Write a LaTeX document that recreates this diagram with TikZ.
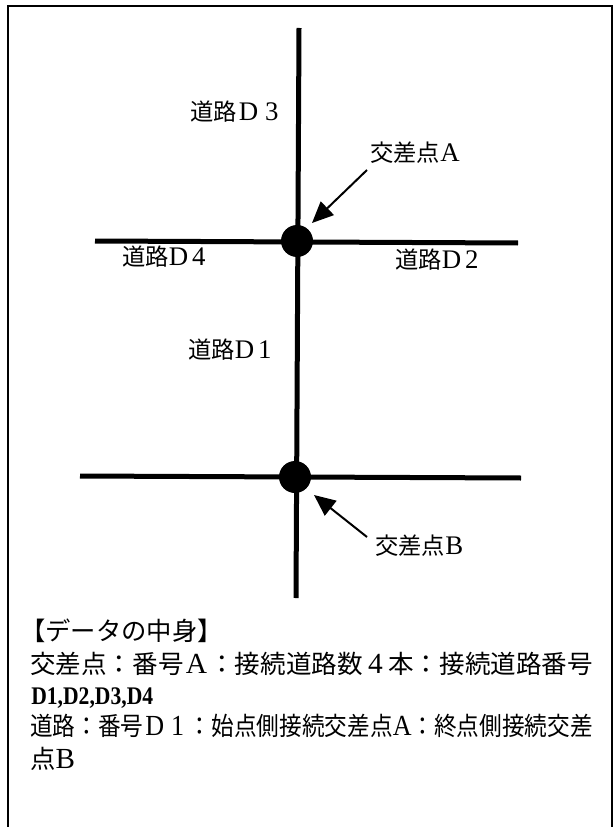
\documentclass[tikz,border=0pt]{standalone}
\usepackage{fontspec}
\setmainfont{Liberation Serif}
\newfontfamily\cjk{Noto Sans CJK JP}
\usetikzlibrary{arrows.meta}
\newcommand{\J}[1]{{\cjk #1}}
\newcommand{\fw}[1]{\makebox[1em]{\scalebox{1.15}{#1}}}
\newcommand{\lt}[1]{\scalebox{1.15}{#1}}
\begin{document}
\begin{tikzpicture}[x=0.75pt,y=-0.75pt,
  frame/.style={line width=1.1pt},
  road/.style={line width=3.75pt},
  junction/.style={circle, fill=black, minimum size=24pt, inner sep=0pt},
  lbl/.style={font=\fontsize{17.5}{20}\selectfont, inner sep=0pt, anchor=west},
  body/.style={font=\fontsize{19}{23}\selectfont, inner sep=0pt, anchor=base west},
  pointer/.style={line width=1.5pt, -{Triangle[length=16pt,width=14pt]}}]
\useasboundingbox (0,0) rectangle (614,827);
\draw[frame] (8,830) -- (8,6) -- (612,6) -- (612,830);
% roads
\coordinate (vtop) at (299,28);
\coordinate (vbot) at (296,598);
\coordinate (a4) at (95,241);
\coordinate (a2) at (518,243);
\coordinate (b4) at (80,476);
\coordinate (b2) at (521,478);
\draw[road] (vtop) -- (vbot);
\draw[road] (a4) -- (a2);
\draw[road] (b4) -- (b2);
% junctions
\node[junction] (A) at (297,241) {};
\node[junction] (B) at (295,477) {};
% pointers
\coordinate (pAt) at (367,170);
\coordinate (pAh) at (312,223);
\coordinate (pBt) at (367,537);
\coordinate (pBh) at (314,495);
\draw[pointer] (pAt) -- (pAh);
\draw[pointer] (pBt) -- (pBh);
% labels
\node[lbl] (d3) at (190,112) {\J{道路}\fw{D}\fw{3}};
\node[lbl] (lA) at (370,153) {\J{交差点}\lt{A}};
\node[lbl] (d4) at (122,257) {\J{道路}\lt{D}\,\lt{4}};
\node[lbl] (d2) at (395,260) {\J{道路}\lt{D}\,\lt{2}};
\node[lbl] (d1) at (188,350) {\J{道路}\lt{D}\,\lt{1}};
\node[lbl] (lB) at (375,546) {\J{交差点}\lt{B}};
% data text
\node[body] (t1) at (20,640) {\J{【データの中身】}};
\node[body] (t2) at (30,673) {\resizebox{422pt}{\height}{\J{交差点：番号}\fw{A}\J{：接続道路数}\fw{4}\J{本：接続道路番号}}};
\node[body] (t3) at (31,704) {\resizebox{91.5pt}{\height}{\bfseries D1,D2,D3,D4}};
\node[body] (t4) at (30,735) {\resizebox{422pt}{\height}{\J{道路：番号}\fw{D}\fw{1}\J{：始点側接続交差点}\lt{A}\J{：終点側接続交差}}};
\node[body] (t5) at (30,768) {\J{点}\lt{B}};
\end{tikzpicture}
\end{document}
